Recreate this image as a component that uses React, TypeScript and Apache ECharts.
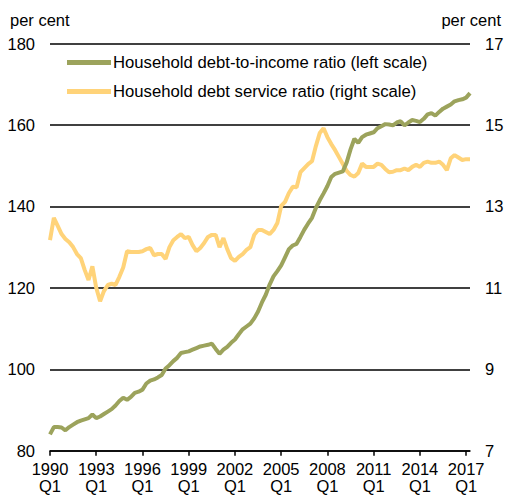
import React, { useEffect, useRef } from "react";
import * as echarts from "echarts";

// Quarterly categories 1990Q1 .. 2017Q2
const startYear = 1990;
const quarterCount = 110;
const categories: string[] = [];
for (let i = 0; i < quarterCount; i++) {
  categories.push(`${startYear + Math.floor(i / 4)}Q${(i % 4) + 1}`);
}

const seriesNames = [
  "Household debt-to-income ratio (left scale)",
  "Household debt service ratio (right scale)",
];

// Left scale, per cent
const debtToIncome = [
  84.0, 85.8, 85.8, 85.7, 85.0, 85.8, 86.4, 87.0, 87.4, 87.7,
  88.0, 88.9, 88.0, 88.4, 89.0, 89.6, 90.2, 91.1, 92.2, 93.0,
  92.5, 93.2, 94.2, 94.5, 95.0, 96.5, 97.2, 97.5, 98.0, 98.6,
  100.2, 101.0, 102.0, 102.8, 104.0, 104.2, 104.4, 104.8, 105.2, 105.6,
  105.8, 106.0, 106.3, 105.0, 103.8, 104.8, 105.5, 106.5, 107.3, 108.6,
  109.8, 110.5, 111.2, 112.5, 114.2, 116.4, 118.3, 120.8, 122.8, 124.1,
  125.5, 127.5, 129.5, 130.4, 130.8, 132.5, 134.3, 135.8, 137.2, 139.6,
  141.5, 143.2, 145.0, 147.2, 148.0, 148.3, 148.6, 150.8, 154.0, 156.6,
  155.6, 157.0, 157.6, 157.9, 158.2, 159.2, 159.7, 160.2, 160.1, 159.9,
  160.6, 160.9, 159.9, 160.6, 161.2, 161.0, 160.7, 161.5, 162.6, 162.9,
  162.3, 163.2, 164.0, 164.5, 165.0, 165.8, 166.1, 166.3, 166.7, 167.8,
];

// Right scale, per cent
const debtService = [
  12.17, 12.72, 12.52, 12.32, 12.2, 12.12, 12.0, 11.83, 11.73, 11.44,
  11.19, 11.53, 11.0, 10.67, 10.92, 11.07, 11.1, 11.07, 11.27, 11.5,
  11.9, 11.88, 11.88, 11.88, 11.9, 11.95, 11.98, 11.8, 11.83, 11.83,
  11.71, 12.0, 12.17, 12.25, 12.32, 12.22, 12.25, 12.05, 11.9, 11.98,
  12.1, 12.25, 12.3, 12.3, 12.0, 12.22, 11.95, 11.73, 11.66, 11.76,
  11.83, 11.93, 12.0, 12.3, 12.42, 12.42, 12.37, 12.32, 12.42, 12.59,
  13.01, 13.11, 13.33, 13.48, 13.47, 13.84, 13.94, 14.04, 14.11, 14.48,
  14.8, 14.92, 14.7, 14.53, 14.38, 14.21, 14.04, 13.87, 13.77, 13.73,
  13.82, 14.05, 13.97, 13.97, 13.97, 14.05, 14.02, 13.92, 13.84, 13.85,
  13.89, 13.89, 13.93, 13.89, 13.97, 14.02, 13.97, 14.07, 14.1, 14.07,
  14.07, 14.1, 14.02, 13.89, 14.18, 14.26, 14.2, 14.14, 14.16, 14.16,
];

const leftTicks = { min: 80, max: 180, interval: 20 };
const rightTicks = { min: 7, max: 17, interval: 2 };
const unitLabel = "per cent";

const GREEN = "#9CA35C";
const YELLOW = "#FFD379";
const FONT = "Liberation Sans, Arial, sans-serif";
const FS = 16.5;

export default function App() {
  const ref = useRef<HTMLDivElement>(null);
  useEffect(() => {
    document.body.style.margin = "0";
    if (!ref.current) return;
    const chart = echarts.init(ref.current, undefined, { renderer: "svg" });
    chart.setOption({
      animation: false,
      backgroundColor: "#ffffff",
      textStyle: { fontFamily: FONT, color: "#000" },
      grid: {
        left: 50,
        right: 35,
        top: 43.5,
        bottom: 44.3,
        containLabel: false,
        outerBoundsMode: "none",
      },
      legend: {
        orient: "vertical",
        left: 62,
        top: 49,
        itemWidth: 44,
        itemHeight: 5,
        itemGap: 12,
        icon: "rect",
        textStyle: { fontFamily: FONT, fontSize: 16.7, color: "#000", padding: [0, 0, 0, -3] },
        data: seriesNames,
      },
      graphic: [
        { type: "text", left: 10, top: 11, style: { text: unitLabel, font: `${FS}px ${FONT}`, fill: "#000" } },
        { type: "text", right: 4, top: 11, style: { text: unitLabel, font: `${FS}px ${FONT}`, fill: "#000" } },
      ],
      xAxis: {
        type: "category",
        data: categories,
        boundaryGap: false,
        axisLine: { show: true, lineStyle: { color: "#000", width: 1.5 } },
        axisTick: { show: true, interval: 11, length: 5, inside: false, lineStyle: { color: "#000", width: 1.5 } },
        axisLabel: {
          interval: 11,
          margin: 10,
          fontSize: FS,
          lineHeight: 17,
          color: "#000",
          fontFamily: FONT,
          formatter: (v: string) => v.replace("Q", "\nQ"),
        },
        splitLine: { show: false },
      },
      yAxis: [
        {
          type: "value",
          position: "left",
          min: leftTicks.min,
          max: leftTicks.max,
          interval: leftTicks.interval,
          axisLine: { show: false },
          axisTick: { show: false },
          axisLabel: { margin: 15, fontSize: FS, color: "#000", fontFamily: FONT },
          splitLine: { show: true, lineStyle: { color: "#000", width: 1.5 } },
        },
        {
          type: "value",
          position: "right",
          min: rightTicks.min,
          max: rightTicks.max,
          interval: rightTicks.interval,
          axisLine: { show: false },
          axisTick: { show: false },
          axisLabel: { margin: 15, fontSize: FS, color: "#000", fontFamily: FONT },
          splitLine: { show: false },
        },
      ],
      series: [
        {
          name: seriesNames[1],
          type: "line",
          yAxisIndex: 1,
          data: debtService,
          symbol: "none",
          lineStyle: { color: YELLOW, width: 4 },
          itemStyle: { color: YELLOW },
          z: 2,
        },
        {
          name: seriesNames[0],
          type: "line",
          yAxisIndex: 0,
          data: debtToIncome,
          symbol: "none",
          lineStyle: { color: GREEN, width: 4 },
          itemStyle: { color: GREEN },
          z: 3,
        },
      ],
    });
    return () => chart.dispose();
  }, []);
  return <div ref={ref} style={{ width: 505, height: 495 }} />;
}
